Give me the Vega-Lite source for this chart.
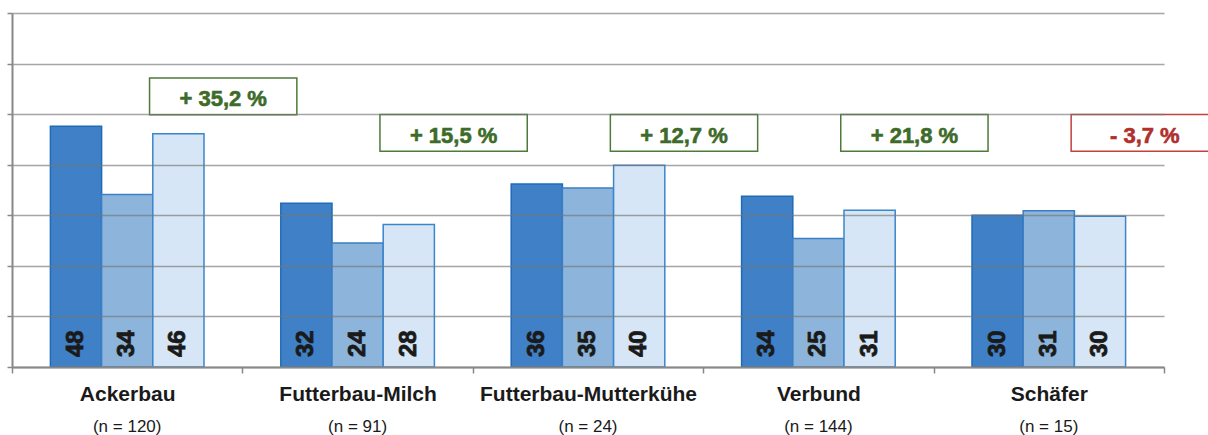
{
  "$schema": "https://vega.github.io/schema/vega-lite/v6.json",
  "width": 1152,
  "height": 354,
  "autosize": {"type": "none"},
  "padding": {"left": 12, "top": 13, "right": 44, "bottom": 68},
  "background": "white",
  "config": {"view": {"stroke": null}, "font": "Liberation Sans"},
  "datasets": {
    "bars": [
      {"Betrieb": "Ackerbau", "Serie": "S1", "Wert": 47.6, "Anzeige": "48"},
      {"Betrieb": "Ackerbau", "Serie": "S2", "Wert": 34.1, "Anzeige": "34"},
      {"Betrieb": "Ackerbau", "Serie": "S3", "Wert": 46.1, "Anzeige": "46"},
      {"Betrieb": "Futterbau-Milch", "Serie": "S1", "Wert": 32.4, "Anzeige": "32"},
      {"Betrieb": "Futterbau-Milch", "Serie": "S2", "Wert": 24.5, "Anzeige": "24"},
      {"Betrieb": "Futterbau-Milch", "Serie": "S3", "Wert": 28.2, "Anzeige": "28"},
      {"Betrieb": "Futterbau-Mutterkühe", "Serie": "S1", "Wert": 36.2, "Anzeige": "36"},
      {"Betrieb": "Futterbau-Mutterkühe", "Serie": "S2", "Wert": 35.4, "Anzeige": "35"},
      {"Betrieb": "Futterbau-Mutterkühe", "Serie": "S3", "Wert": 39.9, "Anzeige": "40"},
      {"Betrieb": "Verbund", "Serie": "S1", "Wert": 33.75, "Anzeige": "34"},
      {"Betrieb": "Verbund", "Serie": "S2", "Wert": 25.4, "Anzeige": "25"},
      {"Betrieb": "Verbund", "Serie": "S3", "Wert": 31.0, "Anzeige": "31"},
      {"Betrieb": "Schäfer", "Serie": "S1", "Wert": 30.0, "Anzeige": "30"},
      {"Betrieb": "Schäfer", "Serie": "S2", "Wert": 30.9, "Anzeige": "31"},
      {"Betrieb": "Schäfer", "Serie": "S3", "Wert": 29.8, "Anzeige": "30"}
    ],
    "gruppen": [
      {"Betrieb": "Ackerbau", "n": "(n = 120)", "Aenderung": "+ 35,2 %", "Richtung": "plus", "Lage": 53.5},
      {"Betrieb": "Futterbau-Milch", "n": "(n = 91)", "Aenderung": "+ 15,5 %", "Richtung": "plus", "Lage": 46.3},
      {"Betrieb": "Futterbau-Mutterkühe", "n": "(n = 24)", "Aenderung": "+ 12,7 %", "Richtung": "plus", "Lage": 46.3},
      {"Betrieb": "Verbund", "n": "(n = 144)", "Aenderung": "+ 21,8 %", "Richtung": "plus", "Lage": 46.3},
      {"Betrieb": "Schäfer", "n": "(n = 15)", "Aenderung": "- 3,7 %", "Richtung": "minus", "Lage": 46.3}
    ]
  },
  "layer": [
    {
      "data": {"name": "bars"},
      "mark": {"type": "bar", "strokeWidth": 1.5},
      "encoding": {
        "x": {
          "field": "Betrieb", "type": "nominal",
          "sort": ["Ackerbau", "Futterbau-Milch", "Futterbau-Mutterkühe", "Verbund", "Schäfer"],
          "scale": {"paddingInner": 0, "paddingOuter": 0},
          "axis": {
            "title": null, "labelAngle": 0, "labelFontSize": 21, "labelFontWeight": "bold",
            "labelColor": "#1a1a1a", "labelPadding": 10, "labelLimit": 0, "tickBand": "extent", "tickSize": 6,
            "tickColor": "#888888", "tickWidth": 1.5, "domainColor": "#888888", "domainWidth": 2,
            "grid": false, "zindex": 1
          }
        },
        "xOffset": {"field": "Serie", "type": "nominal", "scale": {"paddingInner": 0, "paddingOuter": 0.75}},
        "y": {
          "field": "Wert", "type": "quantitative",
          "scale": {"domain": [0, 70], "nice": false},
          "axis": {
            "title": null, "labels": false, "values": [0, 10, 20, 30, 40, 50, 60, 70],
            "tickSize": 5, "tickColor": "#888888", "tickWidth": 1.5,
            "domainColor": "#888888", "domainWidth": 2,
            "grid": true, "gridColor": "#777777", "gridOpacity": 0.65, "gridWidth": 1.5, "zindex": 1
          }
        },
        "fill": {"field": "Serie", "type": "nominal", "legend": null,
          "scale": {"domain": ["S1", "S2", "S3"], "range": ["#4080c6", "#8db5dc", "#d7e6f6"]}},
        "stroke": {"field": "Serie", "type": "nominal", "legend": null,
          "scale": {"domain": ["S1", "S2", "S3"], "range": ["#1f6bb8", "#3a7fc5", "#3a86cc"]}}
      }
    },
    {
      "data": {"name": "bars"},
      "mark": {"type": "text", "angle": 270, "align": "left", "baseline": "middle", "dx": 10,
        "fontSize": 24, "fontWeight": "bold", "color": "#1a1a1a", "stroke": "#1a1a1a", "strokeWidth": 0.8},
      "encoding": {
        "x": {"field": "Betrieb", "type": "nominal",
          "sort": ["Ackerbau", "Futterbau-Milch", "Futterbau-Mutterkühe", "Verbund", "Schäfer"]},
        "xOffset": {"field": "Serie", "type": "nominal"},
        "y": {"datum": 0, "type": "quantitative"},
        "text": {"field": "Anzeige"}
      }
    },
    {
      "data": {"name": "gruppen"},
      "mark": {"type": "text", "align": "center", "baseline": "alphabetic", "dy": 65,
        "fontSize": 17, "color": "#1a1a1a"},
      "encoding": {
        "x": {"field": "Betrieb", "type": "nominal",
          "sort": ["Ackerbau", "Futterbau-Milch", "Futterbau-Mutterkühe", "Verbund", "Schäfer"]},
        "y": {"datum": 0, "type": "quantitative"},
        "text": {"field": "n"}
      }
    },
    {
      "data": {"name": "gruppen"},
      "mark": {"type": "point", "shape": "M0.2235,-0.1835H1.6965V0.1835H0.2235Z", "size": 40000,
        "filled": false, "strokeWidth": 1.5, "opacity": 1},
      "encoding": {
        "x": {"field": "Betrieb", "type": "nominal",
          "sort": ["Ackerbau", "Futterbau-Milch", "Futterbau-Mutterkühe", "Verbund", "Schäfer"]},
        "y": {"field": "Lage", "type": "quantitative"},
        "color": {"field": "Richtung", "type": "nominal", "legend": null,
          "scale": {"domain": ["plus", "minus"], "range": ["#4e7a3a", "#c0423f"]}}
      }
    },
    {
      "data": {"name": "gruppen"},
      "mark": {"type": "text", "align": "center", "baseline": "middle", "dx": 96, "dy": 3,
        "fontSize": 22, "fontWeight": "bold", "strokeWidth": 0.6},
      "encoding": {
        "x": {"field": "Betrieb", "type": "nominal",
          "sort": ["Ackerbau", "Futterbau-Milch", "Futterbau-Mutterkühe", "Verbund", "Schäfer"]},
        "y": {"field": "Lage", "type": "quantitative"},
        "text": {"field": "Aenderung"},
        "fill": {"field": "Richtung", "type": "nominal", "legend": null,
          "scale": {"domain": ["plus", "minus"], "range": ["#3d6b2a", "#b0302c"]}},
        "stroke": {"field": "Richtung", "type": "nominal", "legend": null,
          "scale": {"domain": ["plus", "minus"], "range": ["#3d6b2a", "#b0302c"]}}
      }
    }
  ],
  "resolve": {"scale": {"fill": "independent", "stroke": "independent"}}
}
